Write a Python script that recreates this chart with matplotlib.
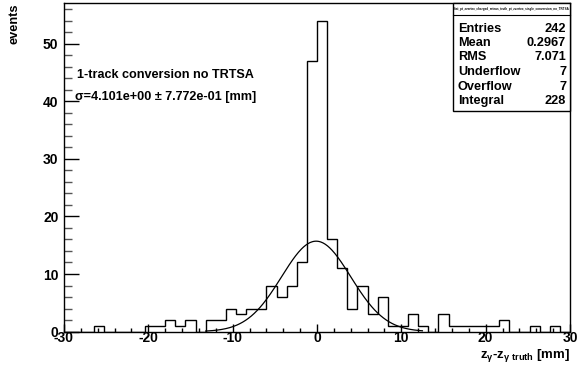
import numpy as np
import matplotlib
matplotlib.use("Agg")
import matplotlib.pyplot as plt
from matplotlib.ticker import MultipleLocator
from matplotlib.patches import Rectangle

plt.rcParams['font.family'] = ['Liberation Sans', 'DejaVu Sans']
plt.rcParams['font.weight'] = 'bold'
plt.rcParams['axes.unicode_minus'] = False
plt.rcParams['mathtext.fontset'] = 'custom'
plt.rcParams['mathtext.rm'] = 'Liberation Sans:bold'
plt.rcParams['mathtext.bf'] = 'Liberation Sans:bold'
plt.rcParams['mathtext.it'] = 'Liberation Sans:bold'

# histogram: 50 bins of 1.2 mm from -30 to 30
bin_edges = np.linspace(-30, 30, 51)
counts = [0, 0, 0, 1, 0, 0, 0, 0, 1, 1,
          2, 1, 2, 0, 2, 2, 4, 3, 4, 4,
          8, 6, 8, 12, 47, 54, 16, 11, 4, 8,
          3, 6, 1, 1, 3, 1, 0, 3, 1, 1,
          1, 1, 1, 2, 0, 0, 1, 0, 1, 0]

# gaussian fit
fit_amp = 15.7
fit_mean = -0.1
fit_sigma = 4.101
fit_range = (-13.2, 12.5)

stat_names = ["Entries", "Mean", "RMS", "Underflow", "Overflow", "Integral"]
stat_values = ["242", "0.2967", "7.071", "7", "7", "228"]
hist_name = "hist_pt_zvertex_charged_minus_truth_pt_zvertex_single_conversion_no_TRTSA"

W, H = 586, 369
fig = plt.figure(figsize=(W / 100, H / 100), dpi=100)
ax = fig.add_axes([64 / W, 1 - 331.6 / H, (570 - 64) / W, (331.6 - 3) / H])

ax.stairs(counts, bin_edges, color="black", lw=1.0)

xf = np.linspace(fit_range[0], fit_range[1], 300)
yf = fit_amp * np.exp(-0.5 * ((xf - fit_mean) / fit_sigma) ** 2)
ax.plot(xf, yf, color="black", lw=0.9)

ax.set_xlim(-30, 30)
ax.set_ylim(0, 57.05)

ax.xaxis.set_major_locator(MultipleLocator(10))
ax.xaxis.set_minor_locator(MultipleLocator(2))
ax.yaxis.set_major_locator(MultipleLocator(10))
ax.yaxis.set_minor_locator(MultipleLocator(2))
ax.tick_params(axis="x", which="major", direction="in", length=6, width=1, labelsize=10, pad=-0.5)
ax.tick_params(axis="x", which="minor", direction="in", length=3, width=1)
ax.tick_params(axis="y", which="major", direction="in", length=11, width=1, labelsize=10, pad=4)
ax.tick_params(axis="y", which="minor", direction="in", length=5.5, width=1, color="#555555")
for lbl in ax.get_xticklabels() + ax.get_yticklabels():
    lbl.set_fontweight("bold")
for s in ax.spines.values():
    s.set_linewidth(1)

# axis titles, ROOT style at the ends of the axes
fig.text(15 / W, 1 - 3 / H, "events", rotation=90, ha="center", va="top",
         fontsize=9.2, fontweight="bold")
fig.text(570 / W, 1 - 358 / H, r"z$_{\gamma}$-z$_{\gamma\ \mathrm{truth}}$ [mm]",
         ha="right", va="baseline", fontsize=9.5, fontweight="bold")

# annotation
fig.text(77 / W, 1 - 75 / H, "1-track conversion no TRTSA", ha="left", va="center",
         fontsize=9.1, fontweight="bold")
fig.text(75 / W, 1 - 97 / H, "σ=4.101e+00 ± 7.772e-01 [mm]", ha="left", va="center",
         fontsize=9.1, fontweight="bold")

# stats box
bx0, bx1, by0, by1 = 453, 570, 3, 111
fig.patches.append(Rectangle((bx0 / W, 1 - by1 / H), (bx1 - bx0) / W, (by1 - by0) / H,
                             transform=fig.transFigure, facecolor="white",
                             edgecolor="black", lw=1, zorder=5))
fig.lines.append(plt.Line2D([bx0 / W, bx1 / W], [1 - 15 / H, 1 - 15 / H],
                            transform=fig.transFigure, color="black", lw=0.8, zorder=6))
fig.text((bx0 + bx1) / 2 / W, 1 - 9 / H, hist_name, ha="center", va="center",
         fontsize=2.2, zorder=7)
for i, (n, v) in enumerate(zip(stat_names, stat_values)):
    y = 1 - (28.5 + i * 14.5) / H
    fig.text(458 / W, y, n, ha="left", va="center", fontsize=9.2, fontweight="bold", zorder=7)
    fig.text(566 / W, y, v, ha="right", va="center", fontsize=9.2, fontweight="bold", zorder=7)

fig.savefig("out.png", dpi=100)
